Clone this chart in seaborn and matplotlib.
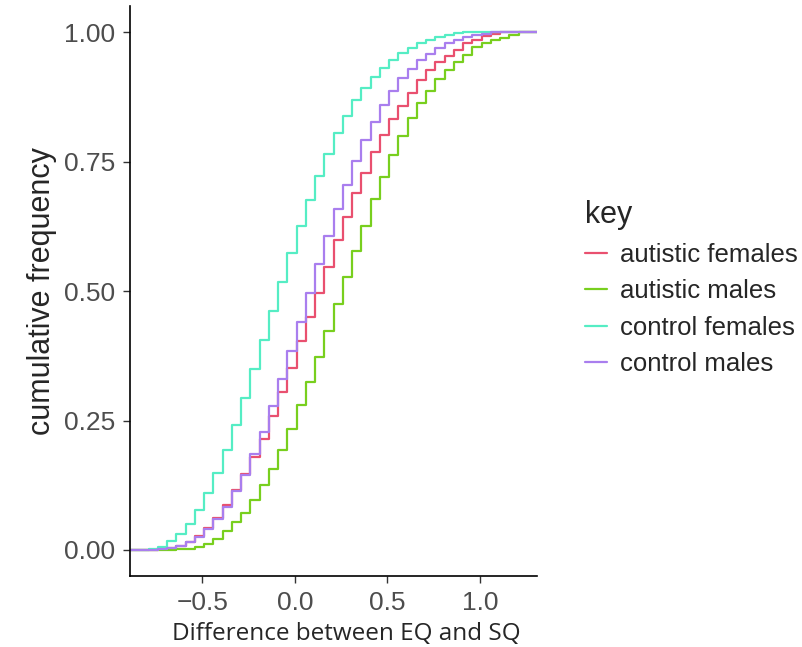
import matplotlib
matplotlib.use("Agg")
import matplotlib.pyplot as plt
import pandas as pd
import seaborn as sns

# step positions of the cumulative curves (Difference between EQ and SQ)
diff_values = [
    -0.79, -0.74, -0.69, -0.64, -0.59, -0.54, -0.49, -0.44, -0.39, -0.34,
    -0.29, -0.24, -0.19, -0.14, -0.09, -0.04, 0.01, 0.06, 0.11, 0.16,
    0.21, 0.26, 0.31, 0.36, 0.41, 0.46, 0.51, 0.56, 0.61, 0.66,
    0.71, 0.76, 0.81, 0.86, 0.91, 0.96, 1.01, 1.06, 1.11, 1.16, 1.21,
]

autistic_females = [
    0.0, 0.001, 0.003, 0.008, 0.016, 0.027, 0.042, 0.062, 0.086, 0.115,
    0.146, 0.180, 0.214, 0.259, 0.305, 0.352, 0.403, 0.450, 0.497, 0.547,
    0.598, 0.644, 0.689, 0.729, 0.768, 0.801, 0.832, 0.857, 0.883, 0.908,
    0.927, 0.942, 0.955, 0.966, 0.979, 0.986, 0.992, 0.996, 1.0, 1.0, 1.0,
]

autistic_males = [
    0.0, 0.0, 0.0, 0.001, 0.002, 0.006, 0.012, 0.022, 0.037, 0.054,
    0.072, 0.096, 0.125, 0.157, 0.194, 0.233, 0.280, 0.325, 0.373, 0.423,
    0.476, 0.528, 0.577, 0.626, 0.678, 0.721, 0.763, 0.800, 0.834, 0.863,
    0.887, 0.910, 0.928, 0.943, 0.957, 0.971, 0.980, 0.986, 0.990, 0.995, 1.0,
]

control_females = [
    0.002, 0.006, 0.017, 0.030, 0.051, 0.078, 0.110, 0.149, 0.193, 0.242,
    0.294, 0.350, 0.405, 0.462, 0.518, 0.573, 0.626, 0.676, 0.723, 0.765,
    0.805, 0.838, 0.869, 0.893, 0.914, 0.932, 0.946, 0.961, 0.970, 0.980,
    0.986, 0.991, 0.995, 0.998, 1.0, 1.0, 1.0, 1.0, 1.0, 1.0, 1.0,
]

control_males = [
    0.0, 0.001, 0.003, 0.008, 0.015, 0.025, 0.041, 0.060, 0.083, 0.114,
    0.144, 0.185, 0.228, 0.278, 0.330, 0.384, 0.441, 0.497, 0.552, 0.607,
    0.658, 0.706, 0.751, 0.792, 0.827, 0.859, 0.887, 0.911, 0.930, 0.946,
    0.959, 0.970, 0.980, 0.986, 0.991, 0.995, 0.997, 1.0, 1.0, 1.0, 1.0,
]

groups = ["autistic females", "autistic males", "control females", "control males"]
colors = ["#E9506F", "#78CF1E", "#55EDC4", "#A97EEE"]
x_ticks = [-0.5, 0.0, 0.5, 1.0]
y_ticks = [0.0, 0.25, 0.5, 0.75, 1.0]

X_LEFT, X_RIGHT = -0.89, 1.31

series = dict(zip(groups, [autistic_females, autistic_males, control_females, control_males]))
frames = []
for name, values in series.items():
    # pad like ggplot's stat_ecdf: start at 0 on the left edge, end at 1 on the right
    frames.append(pd.DataFrame({
        "diff": [X_LEFT] + diff_values + [X_RIGHT],
        "cum": [0.0] + values + [1.0],
        "key": name,
    }))
df = pd.concat(frames, ignore_index=True)

sns.set_style("ticks")
plt.rcParams["font.family"] = ["Liberation Sans", "DejaVu Sans"]

fig = plt.figure(figsize=(8.03, 6.47), dpi=100)
ax = fig.add_axes([0.162, 0.110, 0.507, 0.880])

sns.lineplot(
    data=df, x="diff", y="cum", hue="key", hue_order=groups,
    palette=colors, estimator=None, sort=False, drawstyle="steps-post",
    linewidth=1.6, ax=ax, legend=False,
)

ax.set_xlim(X_LEFT, X_RIGHT)
ax.set_ylim(-0.05, 1.05)
ax.set_xticks(x_ticks)
ax.set_xticklabels(["\u22120.5", "0.0", "0.5", "1.0"])
ax.set_yticks(y_ticks)
ax.set_yticklabels(["0.00", "0.25", "0.50", "0.75", "1.00"])
ax.tick_params(axis="both", labelsize=19, labelcolor="#4D4D4D", color="#333333",
               length=5, width=1.0, pad=6)
for side in ["left", "bottom"]:
    ax.spines[side].set_color("black")
    ax.spines[side].set_linewidth(1.2)
sns.despine(ax=ax)

ax.set_ylabel("cumulative frequency", fontsize=22, labelpad=5)
ax.set_xlabel("Difference between EQ and SQ", fontsize=17.5,
              family=["Open Sans", "DejaVu Sans"], labelpad=5)
# the caption sits a little right of the panel centre in the original
ax.xaxis.label.set_x(0.53)

handles = [plt.Line2D([], [], color=c, linewidth=1.6) for c in colors]
leg = ax.legend(handles, groups, title="key", loc="center left",
                bbox_to_anchor=(1.118, 0.505), frameon=False, fontsize=18.5,
                title_fontsize=22, handlelength=0.85, handletextpad=0.5,
                labelspacing=0.49, alignment="left", borderpad=0,
                borderaxespad=0)

fig.savefig("out.png", dpi=100)
